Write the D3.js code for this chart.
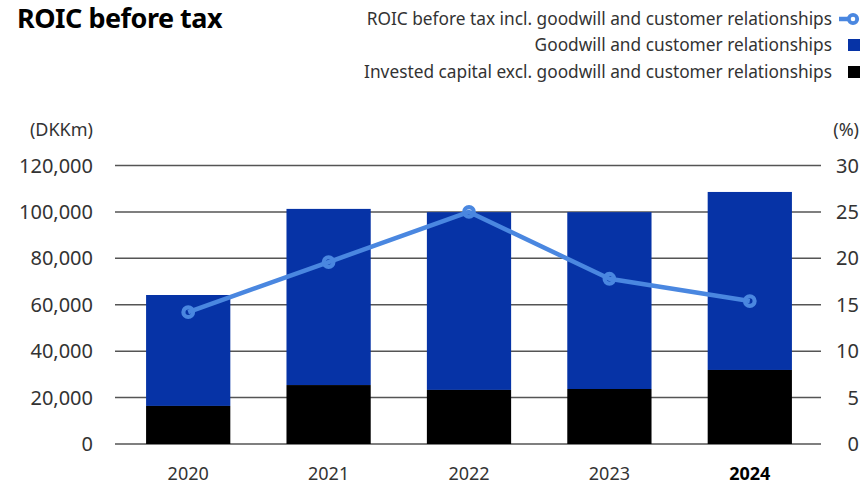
<!DOCTYPE html>
<html>
<head>
<meta charset="utf-8">
<script src="https://cdn.jsdelivr.net/npm/d3@7"></script>
<style>
  html, body { margin: 0; padding: 0; background: #fff; }
  svg { display: block; font-family: "Noto Sans", sans-serif; }
</style>
</head>
<body>
<svg id="chart" width="862" height="485"></svg>
<script>
// Invested capital split (DKKm) and ROIC (%) per year
const years = ["2020", "2021", "2022", "2023", "2024"];
const investedExcl = [16400, 25400, 23300, 23700, 31900];
const goodwill = [47800, 75900, 76600, 76200, 76700];
const roic = [14.2, 19.6, 25.0, 17.8, 15.4];
const leftTicks = [0, 20000, 40000, 60000, 80000, 100000, 120000];
const rightTicks = [0, 5, 10, 15, 20, 25, 30];

const colors = { black: "#000000", goodwill: "#0633a6", roic: "#4a87e0", text: "#333333", grid: "#555555" };

const svg = d3.select("#chart");

const x = d3.scaleBand().domain(years).range([118, 820]).paddingInner(0.4).paddingOuter(0.2);
const yL = d3.scaleLinear().domain([0, 120000]).range([444, 165.5]);
const yR = d3.scaleLinear().domain([0, 30]).range([444, 165.5]);

// Gridlines
svg.append("g").selectAll("line").data(leftTicks).join("line")
  .attr("x1", 115).attr("x2", 821)
  .attr("y1", d => yL(d)).attr("y2", d => yL(d))
  .attr("stroke", colors.grid).attr("stroke-width", 1.5);

// Left axis labels
const fmt = d3.format(",");
svg.append("g").selectAll("text").data(leftTicks).join("text")
  .attr("x", 93).attr("y", d => yL(d)).attr("dy", "0.35em")
  .attr("text-anchor", "end").attr("font-size", 20).attr("fill", colors.text)
  .text(d => fmt(d));
svg.append("text").attr("x", 93).attr("y", 130).attr("dy", "0.35em")
  .attr("text-anchor", "end").attr("font-size", 18).attr("fill", colors.text).text("(DKKm)");

// Right axis labels
svg.append("g").selectAll("text").data(rightTicks).join("text")
  .attr("x", 859).attr("y", d => yR(d)).attr("dy", "0.35em")
  .attr("text-anchor", "end").attr("font-size", 20).attr("fill", colors.text)
  .text(d => d);
svg.append("text").attr("x", 859).attr("y", 130).attr("dy", "0.35em")
  .attr("text-anchor", "end").attr("font-size", 18).attr("fill", colors.text).text("(%)");

// Stacked bars
const stacked = years.map((yr, i) => ({ yr, a: investedExcl[i], b: goodwill[i] }));
svg.append("g").selectAll("rect.gw").data(stacked).join("rect")
  .attr("x", d => x(d.yr)).attr("width", x.bandwidth())
  .attr("y", d => yL(d.a + d.b)).attr("height", d => yL(d.a) - yL(d.a + d.b))
  .attr("fill", colors.goodwill);
svg.append("g").selectAll("rect.ic").data(stacked).join("rect")
  .attr("x", d => x(d.yr)).attr("width", x.bandwidth())
  .attr("y", d => yL(d.a)).attr("height", d => yL(0) - yL(d.a))
  .attr("fill", colors.black);

// ROIC line
const pts = years.map((yr, i) => [x(yr) + x.bandwidth() / 2, yR(roic[i])]);
svg.append("path").attr("d", d3.line()(pts))
  .attr("fill", "none").attr("stroke", colors.roic).attr("stroke-width", 4.5)
  .attr("stroke-linejoin", "round");
svg.append("g").selectAll("circle").data(pts).join("circle")
  .attr("cx", d => d[0]).attr("cy", d => d[1]).attr("r", 4.8)
  .attr("fill", "none").attr("stroke", colors.roic).attr("stroke-width", 4.2);

// X axis labels
svg.append("g").selectAll("text").data(years).join("text")
  .attr("x", d => x(d) + x.bandwidth() / 2).attr("y", 474).attr("dy", "0.35em")
  .attr("text-anchor", "middle").attr("font-size", 18)
  .attr("font-weight", (d, i) => i === years.length - 1 ? 700 : 400)
  .attr("fill", (d, i) => i === years.length - 1 ? "#000" : colors.text)
  .text(d => d);

// Title
svg.append("text").attr("x", 17).attr("y", 28)
  .attr("font-size", 27).attr("font-weight", 700).attr("fill", "#000")
  .attr("letter-spacing", -0.5)
  .text("ROIC before tax");

// Legend
const legend = [
  { label: "ROIC before tax incl. goodwill and customer relationships", type: "line", y: 19 },
  { label: "Goodwill and customer relationships", type: "rect", color: colors.goodwill, y: 45 },
  { label: "Invested capital excl. goodwill and customer relationships", type: "rect", color: colors.black, y: 72 }
];
const lg = svg.append("g");
legend.forEach(d => {
  lg.append("text").attr("x", 832).attr("y", d.y).attr("dy", "0.35em")
    .attr("text-anchor", "end").attr("font-size", 17.3).attr("fill", colors.text).text(d.label);
  if (d.type === "line") {
    lg.append("line").attr("x1", 839).attr("x2", 850).attr("y1", d.y).attr("y2", d.y)
      .attr("stroke", colors.roic).attr("stroke-width", 4.5);
    lg.append("circle").attr("cx", 853).attr("cy", d.y).attr("r", 4.2)
      .attr("fill", "#fff").attr("stroke", colors.roic).attr("stroke-width", 3.8);
  } else {
    lg.append("rect").attr("x", 848).attr("y", d.y - 6).attr("width", 12).attr("height", 12)
      .attr("fill", d.color);
  }
});
</script>
</body>
</html>
